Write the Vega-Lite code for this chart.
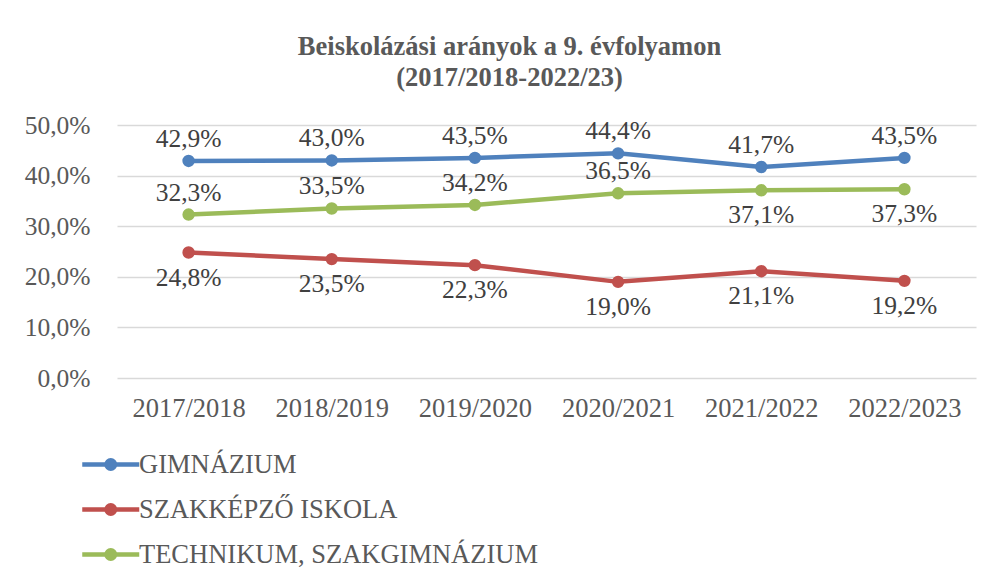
{
  "$schema": "https://vega.github.io/schema/vega-lite/v6.json",
  "autosize": {"type": "none"},
  "width": 859,
  "height": 253,
  "padding": {"left": 117, "top": 125, "right": 17, "bottom": 204},
  "background": "white",
  "config": {
    "locale": {"number": {"decimal": ",", "thousands": " ", "grouping": [3], "currency": ["", " Ft"]}},
    "view": {"stroke": null},
    "font": "Liberation Serif",
    "axis": {"labelFont": "Liberation Serif"},
    "legend": {"labelFont": "Liberation Serif"},
    "text": {"font": "Liberation Serif"}
  },
  "title": {
    "text": ["Beiskolázási arányok a 9. évfolyamon", "(2017/2018-2022/23)"],
    "font": "Liberation Serif",
    "fontSize": 26.5,
    "fontWeight": "bold",
    "color": "#595959",
    "anchor": "middle",
    "frame": "group",
    "dx": -37,
    "offset": 22,
    "lineHeight": 31
  },
  "data": {
    "values": [
      {"year": "2017/2018", "series": "GIMNÁZIUM", "value": 0.429},
      {"year": "2018/2019", "series": "GIMNÁZIUM", "value": 0.430},
      {"year": "2019/2020", "series": "GIMNÁZIUM", "value": 0.435},
      {"year": "2020/2021", "series": "GIMNÁZIUM", "value": 0.444},
      {"year": "2021/2022", "series": "GIMNÁZIUM", "value": 0.417},
      {"year": "2022/2023", "series": "GIMNÁZIUM", "value": 0.435},
      {"year": "2017/2018", "series": "SZAKKÉPZŐ ISKOLA", "value": 0.248},
      {"year": "2018/2019", "series": "SZAKKÉPZŐ ISKOLA", "value": 0.235},
      {"year": "2019/2020", "series": "SZAKKÉPZŐ ISKOLA", "value": 0.223},
      {"year": "2020/2021", "series": "SZAKKÉPZŐ ISKOLA", "value": 0.190},
      {"year": "2021/2022", "series": "SZAKKÉPZŐ ISKOLA", "value": 0.211},
      {"year": "2022/2023", "series": "SZAKKÉPZŐ ISKOLA", "value": 0.192},
      {"year": "2017/2018", "series": "TECHNIKUM, SZAKGIMNÁZIUM", "value": 0.323},
      {"year": "2018/2019", "series": "TECHNIKUM, SZAKGIMNÁZIUM", "value": 0.335},
      {"year": "2019/2020", "series": "TECHNIKUM, SZAKGIMNÁZIUM", "value": 0.342},
      {"year": "2020/2021", "series": "TECHNIKUM, SZAKGIMNÁZIUM", "value": 0.365},
      {"year": "2021/2022", "series": "TECHNIKUM, SZAKGIMNÁZIUM", "value": 0.371},
      {"year": "2022/2023", "series": "TECHNIKUM, SZAKGIMNÁZIUM", "value": 0.373}
    ]
  },
  "encoding": {
    "x": {
      "field": "year", "type": "nominal", "sort": null,
      "scale": {"type": "point", "padding": 0.5},
      "axis": {
        "title": null, "labelAngle": 0, "ticks": false, "domain": false, "grid": false,
        "labelFont": "Liberation Serif", "labelFontSize": 26.5, "labelColor": "#595959",
        "labelPadding": 17
      }
    },
    "y": {
      "field": "value", "type": "quantitative",
      "scale": {"domain": [0, 0.5], "nice": false},
      "axis": {
        "title": null, "values": [0, 0.1, 0.2, 0.3, 0.4, 0.5], "format": ".1%",
        "ticks": false, "domain": false, "gridColor": "#d9d9d9", "gridWidth": 1.5,
        "labelFont": "Liberation Serif", "labelFontSize": 25.5, "labelColor": "#595959",
        "labelPadding": 27
      }
    }
  },
  "layer": [
    {
      "mark": {"type": "line", "strokeWidth": 4.5, "point": {"filled": true, "size": 154}},
      "encoding": {
        "color": {
          "field": "series", "type": "nominal",
          "scale": {"domain": ["GIMNÁZIUM", "SZAKKÉPZŐ ISKOLA", "TECHNIKUM, SZAKGIMNÁZIUM"], "range": ["#4f81bd", "#c0504d", "#9bbb59"]},
          "legend": {
            "title": null, "orient": "none", "legendX": -37, "legendY": 323, "direction": "vertical",
            "padding": 0,
            "symbolType": "M-1,0L3,0M1.298,0A0.298,0.298,0,1,1,0.702,0A0.298,0.298,0,1,1,1.298,0M1.105,0A0.105,0.105,0,1,1,0.895,0A0.105,0.105,0,1,1,1.105,0",
            "symbolSize": 812, "symbolStrokeWidth": 4.5,
            "labelOffset": 26, "rowPadding": 15,
            "labelFont": "Liberation Serif", "labelFontSize": 26.5, "labelColor": "#595959",
            "labelLimit": 600
          }
        }
      }
    },
    {
      "transform": [{"filter": "datum.series === 'GIMNÁZIUM' || (datum.series === 'TECHNIKUM, SZAKGIMNÁZIUM' && datum.year !== '2021/2022' && datum.year !== '2022/2023')"}],
      "mark": {"type": "text", "dy": -22, "font": "Liberation Serif", "fontSize": 25.5, "color": "#404040"},
      "encoding": {"text": {"field": "value", "type": "quantitative", "format": ".1%"}}
    },
    {
      "transform": [{"filter": "datum.series === 'SZAKKÉPZŐ ISKOLA' || (datum.series === 'TECHNIKUM, SZAKGIMNÁZIUM' && (datum.year === '2021/2022' || datum.year === '2022/2023'))"}],
      "mark": {"type": "text", "dy": 25, "font": "Liberation Serif", "fontSize": 25.5, "color": "#404040"},
      "encoding": {"text": {"field": "value", "type": "quantitative", "format": ".1%"}}
    }
  ]
}
